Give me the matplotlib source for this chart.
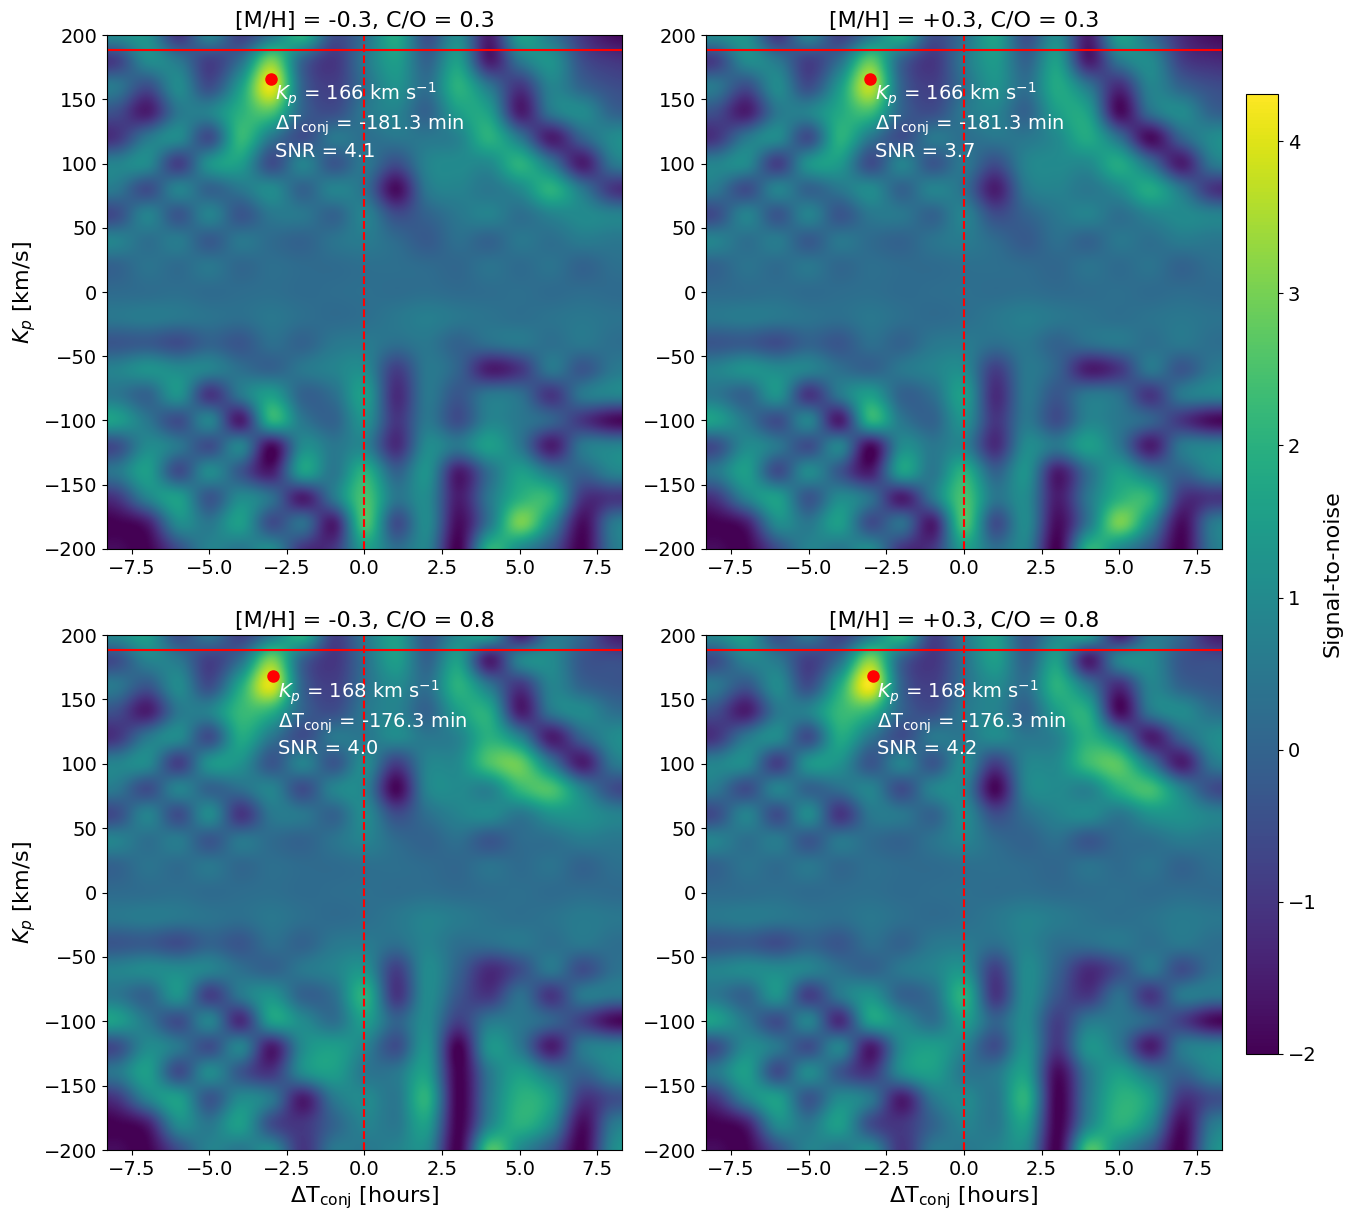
import numpy as np
import matplotlib
matplotlib.use("Agg")
import matplotlib.pyplot as plt

# grid: rows Kp = 200 .. -200 (step 20), cols dT = -8 .. 8 h (step 1)
kp_rows = list(range(200, -201, -20))
dt_cols = list(range(-8, 9))

snr_lowmh_lowco = [
    [1.0, 1.2, -1.0, 0.8, -0.8, 0.5, 2.0, -0.5, 0.3, 1.8, -0.5, 1.0, -1.5, 1.5, 0.5, -1.0, -1.8],
    [-0.8, 1.0, 0.5, -0.8, 0.3, 3.0, 0.0, -1.0, 0.5, 1.5, 0.0, 1.5, -1.5, 0.5, 1.2, -0.5, -1.0],
    [0.5, -0.5, 1.0, -0.5, 1.5, 4.1, 0.0, -0.8, 0.3, 1.2, 0.3, 2.0, 0.5, -1.0, 0.8, 0.0, -0.5],
    [-0.5, -1.5, 0.5, 0.8, 2.0, 2.5, 0.0, -0.5, 0.5, 0.8, 0.0, 1.5, 1.5, -1.5, 0.5, 1.0, 0.0],
    [-1.0, 0.5, 1.0, -0.5, 2.2, 0.5, -0.5, 0.5, 0.3, 0.5, 0.5, 0.8, 2.0, 0.5, -1.5, 0.0, 1.0],
    [0.8, 1.0, -0.8, 1.2, 1.5, -0.5, 0.8, -0.3, 0.5, -0.5, 0.8, 1.0, 1.0, 2.0, 0.5, -1.5, 0.5],
    [0.5, -0.5, 0.8, 0.0, 0.5, 1.0, 0.0, 0.8, 0.3, -1.8, 0.5, 0.8, 0.5, 1.0, 2.0, 0.5, -1.0],
    [-0.5, 0.8, -0.3, 0.8, -0.3, 0.5, 0.5, 0.0, 0.8, -0.5, 0.0, 0.5, 0.8, 0.3, 0.8, 1.0, 0.8],
    [0.8, 0.3, 0.6, -0.2, 0.5, 0.2, 0.0, 0.4, 0.6, 0.2, -0.2, 0.3, 0.0, 0.5, 0.3, 0.6, 0.5],
    [0.0, 0.4, 0.2, 0.5, 0.1, 0.3, 0.2, 0.2, 0.3, 0.3, 0.2, 0.1, 0.4, 0.2, 0.4, 0.0, 0.3],
    [0.2, 0.25, 0.3, 0.2, 0.25, 0.3, 0.2, 0.25, 0.3, 0.25, 0.3, 0.2, 0.25, 0.3, 0.2, 0.25, 0.2],
    [0.5, 0.6, 0.5, 0.4, 0.3, 0.5, 0.3, 0.2, 0.3, 0.5, 0.7, 0.5, 0.4, 0.3, 0.4, 0.5, 0.4],
    [-0.3, -0.2, -0.5, 0.0, -0.3, 0.3, 0.0, 0.5, 0.6, 0.3, 0.5, 0.0, 0.3, 0.5, 0.3, 0.5, 0.3],
    [0.8, 1.2, 1.0, 0.8, 0.3, 0.0, 0.5, 0.8, 1.0, -0.8, 0.5, 0.0, -1.5, -1.0, 0.5, -0.3, 0.5],
    [0.5, 0.0, 1.2, -1.0, 0.5, 1.5, 0.0, 0.3, 1.5, -1.2, 0.5, -0.3, 0.5, 0.3, -1.0, 0.5, 0.8],
    [1.5, 0.5, -0.5, 0.8, -1.5, 2.0, 0.5, 0.0, 1.2, -1.0, 0.5, -0.5, 0.8, 0.5, 0.0, -1.0, -1.8],
    [-0.5, 1.0, 0.5, -0.5, 0.8, -1.8, 1.0, 0.5, 0.8, -1.2, 1.0, 0.5, 1.5, 0.5, -1.5, 0.5, 0.8],
    [0.5, 1.5, -0.5, 1.0, -0.3, -1.5, 1.5, 0.5, 2.0, 0.0, 1.2, -1.5, 0.3, 1.5, 0.5, 0.0, 0.8],
    [-1.0, 0.8, 1.5, -0.3, 1.0, 0.3, -1.5, 0.5, 2.5, 0.5, 1.0, -1.5, 0.5, 2.0, 2.0, -1.0, -1.0],
    [-2.0, -1.5, 1.0, 0.5, 1.5, -0.5, 0.3, -1.5, 2.5, -0.5, 1.0, -1.8, 0.5, 3.0, 1.0, -1.8, 0.5],
    [-1.8, -2.0, -0.5, 0.8, 0.5, 1.0, -1.0, -1.0, 1.5, 0.3, 0.8, -2.0, 2.0, 1.0, -0.3, -2.0, 0.5],
]

snr_highmh_lowco = [
    [1.0, 1.2, -1.0, 0.8, -0.8, 0.5, 1.8, -0.5, 0.3, 1.6, -0.5, 1.0, -1.5, 1.5, 0.3, -1.2, -1.8],
    [-0.8, 1.0, 0.5, -0.8, 0.3, 2.7, 0.0, -1.0, 0.5, 1.4, 0.0, 1.5, -1.5, 0.5, 1.0, -0.8, -1.2],
    [0.5, -0.5, 1.0, -0.5, 1.4, 3.7, 0.0, -0.8, 0.3, 1.2, 0.3, 1.8, 0.5, -1.2, 0.8, 0.0, -0.5],
    [-0.5, -1.5, 0.5, 0.8, 1.8, 2.3, 0.0, -0.5, 0.5, 0.8, 0.0, 1.5, 1.5, -1.8, 0.3, 1.0, 0.0],
    [-1.0, 0.5, 1.0, -0.5, 2.0, 0.5, -0.5, 0.5, 0.3, 0.5, 0.5, 1.0, 1.8, 0.3, -1.8, 0.0, 1.0],
    [0.8, 1.0, -0.8, 1.2, 1.4, -0.5, 0.8, -0.3, 0.5, -0.5, 0.8, 1.0, 1.0, 1.8, 0.3, -1.5, 0.5],
    [0.5, -0.5, 0.8, 0.0, 0.5, 1.0, 0.0, 0.8, 0.3, -1.5, 0.5, 0.8, 0.5, 1.0, 1.8, 0.5, -1.0],
    [-0.5, 0.8, -0.3, 0.8, -0.3, 0.5, 0.5, 0.0, 0.8, -0.5, 0.0, 0.5, 0.8, 0.3, 0.8, 1.0, 0.8],
    [0.8, 0.3, 0.6, -0.2, 0.5, 0.2, 0.0, 0.4, 0.6, 0.2, -0.2, 0.3, 0.0, 0.5, 0.3, 0.6, 0.5],
    [0.0, 0.4, 0.2, 0.5, 0.1, 0.3, 0.2, 0.2, 0.3, 0.3, 0.2, 0.1, 0.4, 0.2, 0.4, 0.0, 0.3],
    [0.2, 0.25, 0.3, 0.2, 0.25, 0.3, 0.2, 0.25, 0.3, 0.25, 0.3, 0.2, 0.25, 0.3, 0.2, 0.25, 0.2],
    [0.5, 0.6, 0.5, 0.4, 0.3, 0.5, 0.3, 0.2, 0.3, 0.5, 0.7, 0.5, 0.4, 0.3, 0.4, 0.5, 0.4],
    [-0.3, -0.2, -0.5, 0.0, -0.3, 0.3, 0.0, 0.5, 0.6, 0.3, 0.5, 0.0, 0.3, 0.5, 0.3, 0.5, 0.3],
    [0.8, 1.2, 1.0, 0.8, 0.3, 0.0, 0.5, 0.8, 1.0, -0.8, 0.5, 0.0, -1.5, -1.0, 0.5, -0.3, 0.5],
    [0.5, 0.0, 1.2, -1.0, 0.5, 1.5, 0.0, 0.3, 1.5, -1.2, 0.5, -0.3, 0.5, 0.3, -1.0, 0.5, 0.8],
    [1.5, 0.5, -0.5, 0.8, -1.5, 2.0, 0.5, 0.0, 1.2, -1.0, 0.5, -0.5, 0.8, 0.5, 0.0, -1.0, -1.8],
    [-0.5, 1.0, 0.5, -0.5, 0.8, -1.8, 1.0, 0.5, 0.8, -1.2, 1.0, 0.5, 1.5, 0.5, -1.5, 0.5, 0.8],
    [0.5, 1.5, -0.5, 1.0, -0.3, -1.5, 1.5, 0.5, 2.0, 0.0, 1.2, -1.5, 0.3, 1.5, 0.5, 0.0, 0.8],
    [-1.0, 0.8, 1.5, -0.3, 1.0, 0.3, -1.5, 0.5, 2.5, 0.5, 1.0, -1.5, 0.5, 2.0, 2.0, -1.0, -1.0],
    [-2.0, -1.5, 1.0, 0.5, 1.5, -0.5, 0.3, -1.5, 2.5, -0.5, 1.0, -1.8, 0.5, 3.0, 1.0, -1.8, 0.5],
    [-1.8, -2.0, -0.5, 0.8, 0.5, 1.0, -1.0, -1.0, 1.5, 0.3, 0.8, -2.0, 2.0, 1.0, -0.3, -2.0, 0.5],
]

snr_lowmh_highco = [
    [1.0, 1.5, -0.5, 0.5, -0.8, 0.5, 2.0, -0.8, 0.5, 1.5, -0.3, 1.0, 1.5, -1.5, 0.5, 0.0, -1.5],
    [-0.5, 0.8, 0.5, -0.8, 0.3, 3.0, 0.0, -1.0, 0.3, 1.5, 0.0, 1.5, -1.5, 0.8, 1.0, -0.3, -0.5],
    [0.5, -0.3, 1.0, -0.5, 1.8, 4.0, 0.0, -0.8, 0.3, 1.0, 0.3, 2.0, 0.5, -1.0, 0.8, 0.0, -0.3],
    [-0.5, -1.5, 0.5, 0.8, 2.2, 2.0, 0.0, -0.5, 0.5, 0.8, 0.0, 1.5, 1.8, -1.5, 0.5, 1.0, 0.3],
    [-1.0, 0.5, 1.0, -0.5, 1.8, 0.5, -0.5, 0.5, 0.5, 1.0, 0.5, 0.8, 2.0, 0.8, -1.5, 0.0, 1.0],
    [0.8, 1.0, -0.8, 1.2, 1.2, -0.3, 0.8, -0.3, 1.0, -0.8, 0.8, 1.0, 2.5, 2.8, 0.5, -1.5, 0.5],
    [0.5, -0.5, 0.8, 0.0, 0.3, 0.8, -0.5, 0.8, 0.8, -1.9, 0.8, 1.0, 0.8, 2.2, 2.5, 0.8, -0.5],
    [-0.5, 0.8, -0.5, 1.0, -1.0, 0.5, 0.5, 0.0, 1.0, -0.5, 0.3, 0.8, 1.0, 0.5, 1.2, 1.2, 0.8],
    [0.8, 0.3, 0.6, -0.3, 0.5, 0.2, 0.0, 0.4, 0.8, 0.2, 0.0, 0.3, -0.3, 0.2, 0.3, 0.6, 0.5],
    [0.0, 0.4, 0.2, 0.5, 0.1, 0.3, 0.2, 0.2, 0.3, 0.3, 0.2, 0.1, 0.4, 0.2, 0.4, 0.0, 0.3],
    [0.2, 0.25, 0.3, 0.2, 0.25, 0.3, 0.2, 0.25, 0.3, 0.25, 0.3, 0.2, 0.25, 0.3, 0.2, 0.25, 0.2],
    [0.5, 0.6, 0.5, 0.4, 0.3, 0.5, 0.3, 0.2, 0.3, 0.5, 0.8, 0.6, 0.4, 0.3, 0.4, 0.6, 0.5],
    [-0.3, -0.2, -0.5, 0.0, -0.3, 0.3, 0.0, 0.5, 0.6, 0.3, 0.8, 0.3, 0.3, 0.5, 0.3, 0.5, 0.3],
    [0.8, 1.0, 1.0, 0.8, 0.3, 0.0, 0.5, 0.8, 1.2, -0.8, 1.0, 0.0, -1.2, -0.5, 0.5, -0.5, 0.3],
    [0.5, 0.0, 1.2, -0.8, 0.5, 1.2, 0.0, 0.3, 2.0, -1.0, 1.0, -0.3, -1.0, 0.3, -1.0, 0.5, 0.5],
    [1.5, 0.5, -0.5, 0.8, -1.2, 1.5, 1.0, 0.3, 1.5, 0.0, 1.0, -0.8, 0.5, 0.5, 0.0, -0.8, -1.8],
    [-0.5, 1.0, 0.5, -0.5, 0.8, -1.5, 1.0, 1.5, 0.8, -0.5, 1.2, -2.0, 1.2, 0.5, -1.5, 0.5, 0.8],
    [0.5, 1.5, -0.5, 1.0, -0.3, -1.0, 1.0, 1.5, 0.5, 0.5, 1.5, -2.0, 0.5, 1.5, 0.5, 0.0, 0.8],
    [-1.0, 0.8, 1.5, -0.3, 1.0, 0.5, -1.5, 0.5, 1.0, 0.5, 2.0, -2.0, 0.5, 2.0, 1.5, -1.0, -0.5],
    [-2.0, -1.5, 1.0, 0.5, 1.5, -0.5, -1.0, 0.0, 0.8, 0.5, 1.5, -2.0, 0.8, 2.0, 1.0, -1.8, 0.5],
    [-1.8, -2.0, -0.5, 0.8, 0.5, 1.0, -1.0, 0.5, 0.5, 0.8, 1.0, -2.0, 2.5, 1.0, -0.3, -2.0, 1.0],
]

snr_highmh_highco = [
    [1.0, 1.5, -0.5, 0.5, -0.8, 0.5, 2.1, -0.8, 0.5, 1.5, -0.3, 1.0, 1.5, -1.5, 0.5, 0.0, -1.5],
    [-0.5, 0.8, 0.5, -0.8, 0.3, 3.1, 0.0, -1.0, 0.3, 1.5, 0.0, 1.5, -1.5, 0.8, 1.0, -0.3, -0.5],
    [0.5, -0.3, 1.0, -0.5, 1.8, 4.2, 0.0, -0.8, 0.3, 1.0, 0.3, 2.0, 0.5, -1.2, 0.8, 0.0, -0.3],
    [-0.5, -1.5, 0.5, 0.8, 2.2, 2.1, 0.0, -0.5, 0.5, 0.8, 0.0, 1.5, 1.8, -1.8, 0.5, 1.0, 0.3],
    [-1.0, 0.5, 1.0, -0.5, 1.8, 0.5, -0.5, 0.5, 0.5, 1.0, 0.5, 0.8, 2.0, 0.8, -1.5, 0.0, 1.0],
    [0.8, 1.0, -0.8, 1.2, 1.2, -0.3, 0.8, -0.3, 1.0, -0.8, 0.8, 1.0, 2.3, 2.6, 0.5, -1.5, 0.5],
    [0.5, -0.5, 0.8, 0.0, 0.3, 0.8, -0.5, 0.8, 0.8, -1.9, 0.8, 1.0, 0.8, 2.0, 2.4, 0.8, -0.5],
    [-0.5, 0.8, -0.5, 1.0, -1.0, 0.5, 0.5, 0.0, 1.0, -0.5, 0.3, 0.8, 1.0, 0.5, 1.2, 1.2, 0.8],
    [0.8, 0.3, 0.6, -0.3, 0.5, 0.2, 0.0, 0.4, 0.8, 0.2, 0.0, 0.3, -0.3, 0.2, 0.3, 0.6, 0.5],
    [0.0, 0.4, 0.2, 0.5, 0.1, 0.3, 0.2, 0.2, 0.3, 0.3, 0.2, 0.1, 0.4, 0.2, 0.4, 0.0, 0.3],
    [0.2, 0.25, 0.3, 0.2, 0.25, 0.3, 0.2, 0.25, 0.3, 0.25, 0.3, 0.2, 0.25, 0.3, 0.2, 0.25, 0.2],
    [0.5, 0.6, 0.5, 0.4, 0.3, 0.5, 0.3, 0.2, 0.3, 0.5, 0.8, 0.6, 0.4, 0.3, 0.4, 0.6, 0.5],
    [-0.3, -0.2, -0.5, 0.0, -0.3, 0.3, 0.0, 0.5, 0.6, 0.3, 0.8, 0.3, 0.3, 0.5, 0.3, 0.5, 0.3],
    [0.8, 1.0, 1.0, 0.8, 0.3, 0.0, 0.5, 0.8, 1.2, -0.8, 1.0, 0.0, -1.2, -0.5, 0.5, -0.5, 0.3],
    [0.5, 0.0, 1.2, -0.8, 0.5, 1.2, 0.0, 0.3, 2.0, -1.0, 1.0, -0.3, -1.0, 0.3, -1.0, 0.5, 0.5],
    [1.5, 0.5, -0.5, 0.8, -1.2, 1.5, 1.0, 0.3, 1.5, 0.0, 1.0, -0.8, 0.5, 0.5, 0.0, -0.8, -1.8],
    [-0.5, 1.0, 0.5, -0.5, 0.8, -1.5, 1.0, 1.5, 0.8, -0.5, 1.2, -1.0, 1.2, 0.5, -1.5, 0.5, 0.8],
    [0.5, 1.5, -0.5, 1.0, -0.3, -1.0, 1.0, 1.5, 0.5, 0.5, 1.5, -1.8, 0.5, 1.5, 0.5, 0.0, 0.8],
    [-1.0, 0.8, 1.5, -0.3, 1.0, 0.5, -1.5, 0.5, 1.0, 0.5, 2.0, -2.0, 0.5, 2.0, 1.5, -1.0, -0.5],
    [-2.0, -1.5, 1.0, 0.5, 1.5, -0.5, -1.0, 0.0, 0.8, 0.5, 1.5, -2.0, 0.8, 2.0, 1.0, -1.8, 0.5],
    [-1.8, -2.0, -0.5, 0.8, 0.5, 1.0, -1.0, 0.5, 0.5, 0.8, 1.0, -2.0, 2.5, 1.0, -0.3, -2.0, 1.0],
]

titles = ["[M/H] = -0.3, C/O = 0.3", "[M/H] = +0.3, C/O = 0.3",
          "[M/H] = -0.3, C/O = 0.8", "[M/H] = +0.3, C/O = 0.8"]
peak_kp = [166, 166, 168, 168]
peak_dt_min = [-181.3, -181.3, -176.3, -176.3]
peak_snr = [4.1, 3.7, 4.0, 4.2]
kp_expected = 188
maps = [snr_lowmh_lowco, snr_highmh_lowco, snr_lowmh_highco, snr_highmh_highco]

fig = plt.figure(figsize=(13.61, 12.21), dpi=100)
positions = [[0.0786, 0.5504, 0.3784, 0.4209],
             [0.5187, 0.5504, 0.3791, 0.4209],
             [0.0786, 0.0581, 0.3784, 0.4218],
             [0.5187, 0.0581, 0.3791, 0.4218]]

vmin, vmax = -2.0, 4.31
half_dt = (dt_cols[1] - dt_cols[0]) / 2
half_kp = (kp_rows[0] - kp_rows[1]) / 2
extent = [dt_cols[0] - half_dt, dt_cols[-1] + half_dt,
          kp_rows[-1] - half_kp, kp_rows[0] + half_kp]

for i, pos in enumerate(positions):
    ax = fig.add_axes(pos)
    im = ax.imshow(np.array(maps[i]), extent=extent, aspect='auto', cmap='viridis',
                   vmin=vmin, vmax=vmax, interpolation='catrom')
    ax.set_xlim(-8.3, 8.3)
    ax.set_ylim(-200, 200)
    ax.axhline(kp_expected, color='red', lw=1.5)
    ax.axvline(0, color='red', ls='--', lw=1.5)
    dt_h = peak_dt_min[i] / 60
    ax.plot(dt_h, peak_kp[i], 'o', color='red', ms=8)
    label = ("$K_p$ = %d km s$^{-1}$\n$\\Delta$T$_{\\rm conj}$ = %.1f min\nSNR = %.1f"
             % (peak_kp[i], peak_dt_min[i], peak_snr[i]))
    ax.text(dt_h + 0.15, peak_kp[i] - 1.5, label, color='white', fontsize=14,
            va='top', ha='left', linespacing=1.22)
    ax.set_title(titles[i], fontsize=16)
    ax.tick_params(labelsize=14)
    if i % 2 == 0:
        ax.set_ylabel("$K_p$ [km/s]", fontsize=16)
    if i >= 2:
        ax.set_xlabel("$\\Delta$T$_{\\rm conj}$ [hours]", fontsize=16)

cax = fig.add_axes([0.9155, 0.1368, 0.0235, 0.7862])
cb = fig.colorbar(im, cax=cax)
cb.set_label("Signal-to-noise", fontsize=16)
cb.ax.tick_params(labelsize=14)

fig.savefig("out.png", dpi=100)
